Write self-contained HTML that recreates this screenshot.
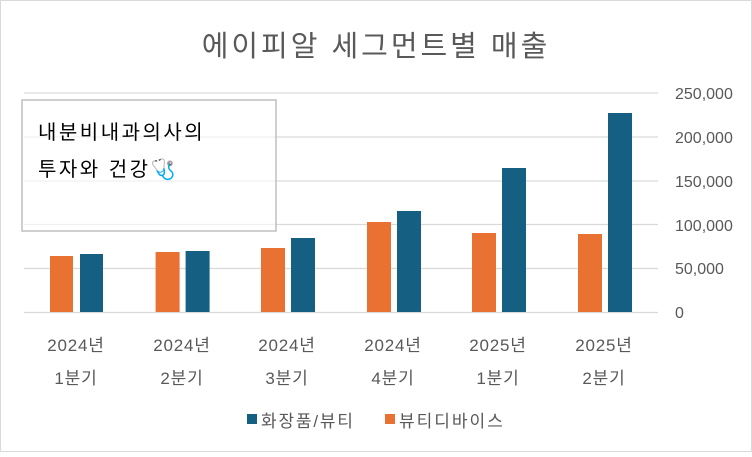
<!DOCTYPE html>
<html><head><meta charset="utf-8"><style>
body{margin:0;background:#fff}
svg text{font-family:"Liberation Sans","Noto Sans CJK KR",sans-serif}
</style></head><body>
<svg width="752" height="452" xmlns="http://www.w3.org/2000/svg">
<rect x="0.5" y="0.5" width="751" height="451" fill="#fff" stroke="#d9d9d9"/>
<text x="376" y="56" text-anchor="middle" font-size="29" letter-spacing="3" fill="#595959">에이피알 세그먼트별 매출</text>
<g stroke="#d9d9d9" stroke-width="1.3">
<line x1="24" x2="658" y1="93" y2="93"/><line x1="24" x2="658" y1="137" y2="137"/>
<line x1="24" x2="658" y1="181" y2="181"/><line x1="24" x2="658" y1="224.5" y2="224.5"/>
<line x1="24" x2="658" y1="268.5" y2="268.5"/><line x1="24" x2="658" y1="312.5" y2="312.5"/>
</g>
<g font-size="16" fill="#595959">
<text x="675" y="99">250,000</text><text x="675" y="143">200,000</text>
<text x="675" y="187">150,000</text><text x="675" y="231">100,000</text>
<text x="675" y="274">50,000</text><text x="675" y="318">0</text>
</g>
<g fill="#e97132">
<rect x="50" y="256" width="23" height="56"/>
<rect x="155.6" y="252" width="24" height="60"/>
<rect x="261" y="248" width="24" height="64"/>
<rect x="367" y="222" width="24" height="90"/>
<rect x="472" y="233" width="24" height="79"/>
<rect x="578" y="234" width="24" height="78"/>
</g>
<g fill="#156082">
<rect x="80" y="254" width="23" height="58"/>
<rect x="185.6" y="251" width="24" height="61"/>
<rect x="291" y="238" width="24" height="74"/>
<rect x="397" y="211" width="24" height="101"/>
<rect x="502" y="168" width="24" height="144"/>
<rect x="608" y="113" width="24" height="199"/>
</g>
<g font-size="17" letter-spacing="0.8" fill="#595959" text-anchor="middle">
<text x="76" y="351">2024년</text><text x="76" y="384">1분기</text>
<text x="182" y="351">2024년</text><text x="182" y="384">2분기</text>
<text x="287" y="351">2024년</text><text x="287" y="384">3분기</text>
<text x="393" y="351">2024년</text><text x="393" y="384">4분기</text>
<text x="498" y="351">2025년</text><text x="498" y="384">1분기</text>
<text x="604" y="351">2025년</text><text x="604" y="384">2분기</text>
</g>
<rect x="247" y="414" width="10" height="10" fill="#156082"/>
<text x="261" y="427" font-size="17" letter-spacing="1.8" fill="#595959">화장품/뷰티</text>
<rect x="385" y="414" width="10" height="10" fill="#e97132"/>
<text x="399" y="427" font-size="17" letter-spacing="2" fill="#595959">뷰티디바이스</text>
<rect x="22" y="100" width="254" height="131" fill="rgba(255,255,255,0.6)" stroke="#bfbfbf" stroke-width="1.5"/>
<text x="38" y="139" font-size="20" letter-spacing="2.5" fill="#000">내분비내과의사의</text>
<text x="38" y="176" font-size="20" letter-spacing="2.5" fill="#000">투자와 건강🩺</text>
</svg>
</body></html>
